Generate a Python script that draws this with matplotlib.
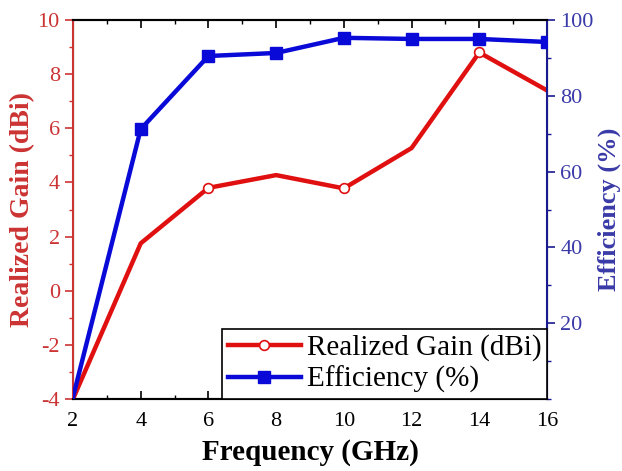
import numpy as np
import matplotlib
matplotlib.use('Agg')
import matplotlib.pyplot as plt
from matplotlib.ticker import MultipleLocator

font = {'family': 'Liberation Serif', 'size': 16}
matplotlib.rc('font', **font)
matplotlib.rcParams['axes.unicode_minus'] = False

freq = [2, 4, 6, 8, 10, 12, 14, 16]
gain = [-4.0, 1.75, 3.8, 4.27, 3.78, 5.27, 8.8, 7.4]
efficiency = [0.5, 71.2, 90.5, 91.3, 95.3, 95.0, 95.0, 94.2]

red = '#e01010'
blue = '#0a0ad8'
red_txt = '#cc3333'
blue_txt = '#3a3aa8'

fig = plt.figure(figsize=(6.22, 4.71), dpi=100)
ax = fig.add_axes([73 / 622, 72 / 471, 474 / 622, 379 / 471])
ax2 = ax.twinx()

l1, = ax.plot(freq, gain, color=red, lw=3.2, marker='o', markersize=7,
              markerfacecolor='white', markeredgecolor=red, markeredgewidth=1.2,
              markevery=[2, 4, 6], label='Realized Gain (dBi)', zorder=3)
l2, = ax2.plot(freq, efficiency, color=blue, lw=3.2, marker='s', markersize=8,
               markevery=[1, 2, 3, 4, 5, 6, 7], label='Efficiency (%)', zorder=3)

ax.set_xlim(2, 16)
ax.set_ylim(-4, 10)
ax2.set_ylim(0, 100)

ax.xaxis.set_major_locator(MultipleLocator(2))
ax.xaxis.set_minor_locator(MultipleLocator(1))
ax.yaxis.set_major_locator(MultipleLocator(2))
ax.yaxis.set_minor_locator(MultipleLocator(1))
ax2.yaxis.set_major_locator(MultipleLocator(20))
ax2.yaxis.set_minor_locator(MultipleLocator(10))
ax2.set_yticks([20, 40, 60, 80, 100])

ax.tick_params(axis='x', which='both', direction='in', top=True, color='black',
               labelsize=16, pad=9)
ax.tick_params(axis='x', which='major', length=6, width=1.2)
ax.tick_params(axis='x', which='minor', length=3, width=1)
ax.tick_params(axis='y', which='both', direction='out', color=red_txt,
               labelcolor=red_txt, labelsize=16)
ax.tick_params(axis='y', which='major', length=6, width=1.2)
ax.tick_params(axis='y', which='minor', length=3, width=1)
ax2.tick_params(axis='y', which='both', direction='out', color='#1a1a90',
                labelcolor=blue_txt, labelsize=16)
ax2.tick_params(axis='y', which='major', length=6, width=1.2)
ax2.tick_params(axis='y', which='minor', length=3, width=1)

for sp in ['top', 'bottom']:
    ax.spines[sp].set_linewidth(1.5)
    ax2.spines[sp].set_linewidth(1.5)
ax2.spines['left'].set_color(red_txt)
ax2.spines['left'].set_linewidth(1.5)
ax2.spines['right'].set_color('#1a1a90')
ax2.spines['right'].set_linewidth(1.5)

ax.set_xlabel('Frequency (GHz)', fontsize=21, fontweight='bold', labelpad=6)
ax.set_ylabel('Realized Gain (dBi)', fontsize=20, fontweight='bold',
              color=red_txt, labelpad=2)
ax2.set_ylabel('Efficiency (%)', fontsize=19, fontweight='bold',
               color=blue_txt, labelpad=3)

leg = ax2.legend(handles=[l1, l2], loc='lower right', fontsize=21,
                 frameon=True, fancybox=False, framealpha=1, edgecolor='black',
                 borderaxespad=0, handlelength=2.5, handletextpad=0.2,
                 borderpad=0.2, labelspacing=0.15)
leg.get_frame().set_linewidth(1.2)

fig.savefig('out.png', dpi=100)
